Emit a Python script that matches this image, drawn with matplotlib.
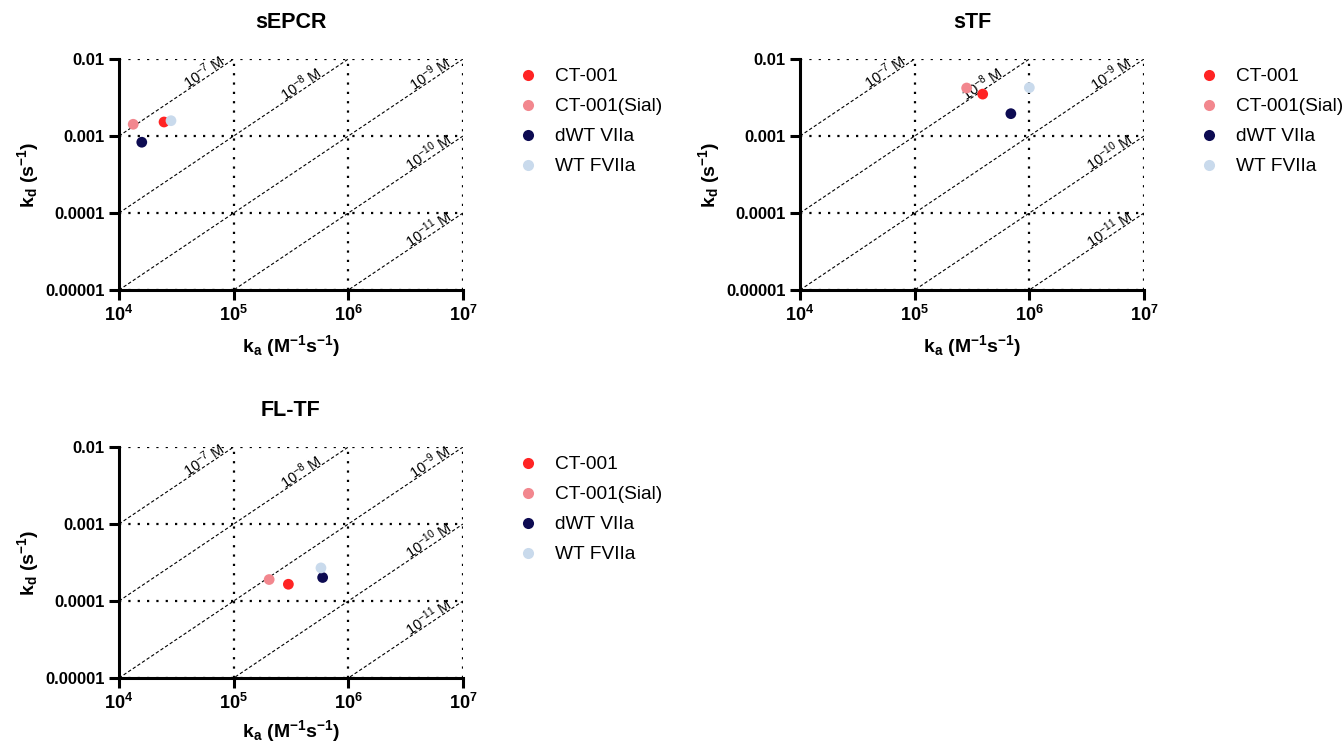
import numpy as np
import matplotlib
matplotlib.use('Agg')
import matplotlib.pyplot as plt
from matplotlib.lines import Line2D

plt.rcParams['font.family'] = ['Liberation Sans', 'DejaVu Sans']
plt.rcParams['mathtext.fontset'] = 'custom'
plt.rcParams['mathtext.rm'] = 'Liberation Sans'
plt.rcParams['mathtext.it'] = 'Liberation Sans:italic'
plt.rcParams['mathtext.bf'] = 'Liberation Sans:bold'

# data
panels = ['sEPCR', 'sTF', 'FL-TF']
series = ['CT-001', 'CT-001(Sial)', 'dWT VIIa', 'WT FVIIa']
colors = ['#FF2424', '#F2878E', '#0D0B52', '#C9DAEC']

ka_sepcr = [2.47e4, 1.33e4, 1.58e4, 2.84e4]
kd_sepcr = [1.52e-3, 1.42e-3, 8.3e-4, 1.58e-3]
ka_stf = [3.92e5, 2.84e5, 6.9e5, 1.0e6]
kd_stf = [3.5e-3, 4.2e-3, 1.95e-3, 4.25e-3]
ka_fltf = [3.0e5, 2.04e5, 5.97e5, 5.77e5]
kd_fltf = [1.65e-4, 1.9e-4, 2.02e-4, 2.69e-4]

kd_iso = [1e-7, 1e-8, 1e-9, 1e-10, 1e-11]
iso_exp = ['-7', '-8', '-9', '-10', '-11']
iso_label_x = [4.0e4, 2.8e5, 3.8e6, 3.5e6, 3.5e6]

xlim = (1e4, 1e7)
ylim = (1e-5, 1e-2)

fig = plt.figure(figsize=(13.43, 7.44), dpi=100)
W, H = 1343, 744
boxes = [(119, 59), (800, 59), (119, 447)]
xpads = [6, 6, 4]
data = [(ka_sepcr, kd_sepcr), (ka_stf, kd_stf), (ka_fltf, kd_fltf)]

for name, (bx, by), xp, (ka, kd) in zip(panels, boxes, xpads, data):
    ax = fig.add_axes([bx / W, 1 - (by + 231) / H, 344 / W, 231 / H])
    ax.set_xscale('log')
    ax.set_yscale('log')
    ax.set_xlim(*xlim)
    ax.set_ylim(*ylim)

    # iso-affinity lines
    xx = np.logspace(4, 7, 200)
    ang = np.degrees(np.arctan2(77.0, 114.7))
    for K, e, lx in zip(kd_iso, iso_exp, iso_label_x):
        yy = K * xx
        ax.plot(xx, yy, color='black', lw=0.8, ls=(0, (3, 2)), zorder=1)
        ax.text(lx, K * lx, r'$10^{%s}$ M' % e, fontsize=10.5,
                rotation=ang, rotation_mode='anchor', ha='left',
                va='baseline', zorder=2)

    ax.grid(True, which='major', color='black', ls=(0, (1, 3.2)), lw=1.6)
    ax.set_axisbelow(True)
    for s in ['top', 'right']:
        ax.spines[s].set_visible(False)
    for s in ['left', 'bottom']:
        ax.spines[s].set_linewidth(2.2)
    ax.tick_params(which='major', length=7, width=2.2, direction='out')
    ax.tick_params(which='minor', length=0)

    ax.set_xticks([1e4, 1e5, 1e6, 1e7])
    ax.set_xticklabels([r'$\mathbf{10^{%d}}$' % i for i in range(4, 8)],
                       fontsize=13)
    ax.set_yticks([1e-5, 1e-4, 1e-3, 1e-2])
    ax.set_yticklabels(['0.00001', '0.0001', '0.001', '0.01'],
                       fontsize=12, fontweight='bold')

    ax.set_xlabel(r'$\mathbf{k_a\ (M^{-1}s^{-1})}$', fontsize=14, labelpad=xp)
    ax.set_ylabel(r'$\mathbf{k_d\ (s^{-1})}$', fontsize=14, labelpad=3)
    ax.set_title(name, fontsize=15.5, fontweight='bold', pad=22)

    for x, y, c in zip(ka, kd, colors):
        ax.scatter([x], [y], s=60, color=c, zorder=5, clip_on=False,
                   edgecolors='none')

    handles = [Line2D([], [], ls='none', marker='o', ms=8, color=c,
                      markeredgewidth=0) for c in colors]
    ax.legend(handles, series, loc='upper left',
              bbox_to_anchor=(1.14, 0.995), frameon=False, fontsize=13.8,
              handlelength=1.0, handletextpad=0.9, labelspacing=0.66,
              borderaxespad=0)

fig.savefig('out.png', dpi=100)
